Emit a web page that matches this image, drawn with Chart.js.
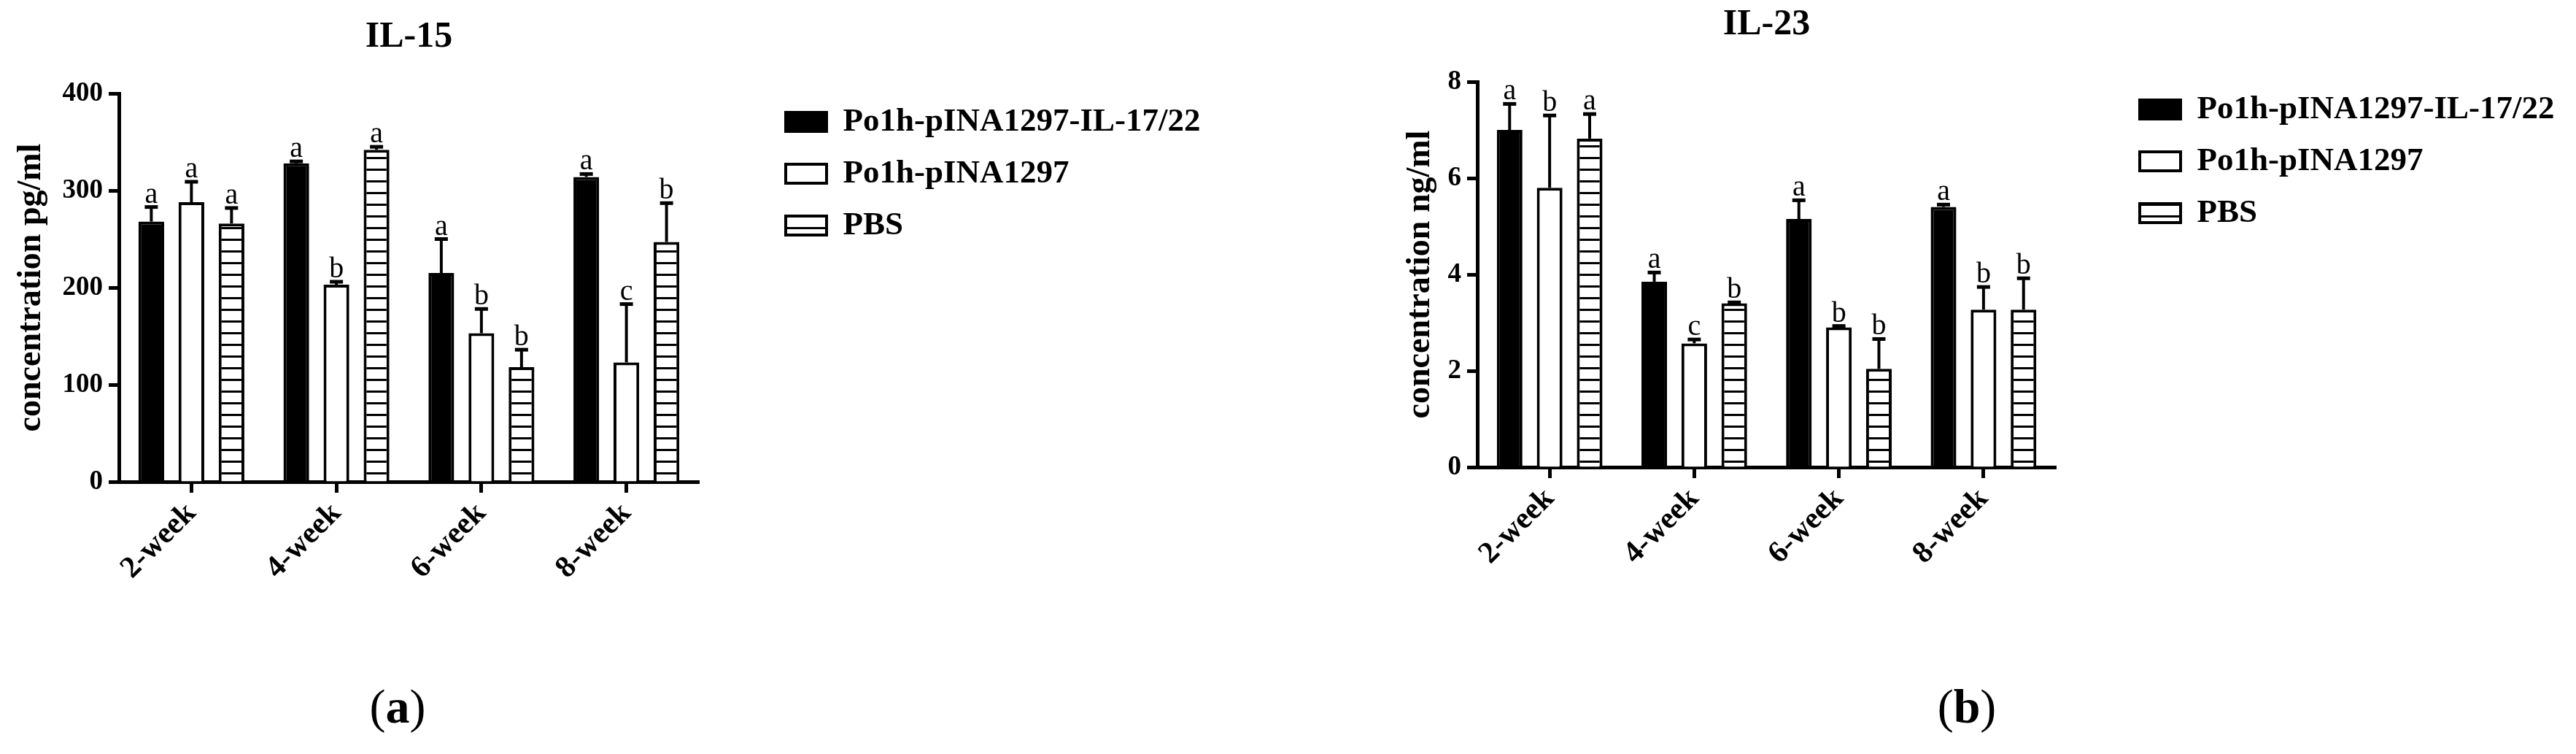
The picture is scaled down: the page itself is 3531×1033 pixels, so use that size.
<!DOCTYPE html>
<html>
<head>
<meta charset="utf-8">
<script src="https://cdn.jsdelivr.net/npm/chart.js@4.4.1/dist/chart.umd.min.js"></script>
<style>
  body { margin: 0; background: #fff; }
  canvas { position: absolute; top: 0; }
</style>
</head>
<body>
<canvas id="il15" width="1766" height="1033" style="left:0"></canvas>
<canvas id="il23" width="1765" height="1033" style="left:1766px"></canvas>
<script>
const weeks = ['2-week', '4-week', '6-week', '8-week'];
const groups = ['Po1h-pINA1297-IL-17/22', 'Po1h-pINA1297', 'PBS'];

// IL-15 (pg/ml)
const il15Vaccine = [268, 328, 215, 314];
const il15Vector = [288, 203, 153, 123];
const il15Pbs = [266, 342, 118, 247];
const il15VaccineSd = [15, 2, 35, 3];
const il15VectorSd = [21, 3, 25, 60];
const il15PbsSd = [16, 3, 18, 40];
const il15VaccineSig = ['a', 'a', 'a', 'a'];
const il15VectorSig = ['a', 'b', 'b', 'c'];
const il15PbsSig = ['a', 'a', 'b', 'b'];
const il15Ticks = [0, 100, 200, 300, 400];

// IL-23 (ng/ml)
const il23Vaccine = [7.0, 3.85, 5.15, 5.4];
const il23Vector = [5.8, 2.57, 2.9, 3.27];
const il23Pbs = [6.82, 3.4, 2.04, 3.27];
const il23VaccineSd = [0.54, 0.19, 0.39, 0.05];
const il23VectorSd = [1.5, 0.08, 0.03, 0.47];
const il23PbsSd = [0.51, 0.02, 0.62, 0.65];
const il23VaccineSig = ['a', 'a', 'a', 'a'];
const il23VectorSig = ['b', 'c', 'b', 'b'];
const il23PbsSig = ['a', 'b', 'b', 'b'];
const il23Ticks = [0, 2, 4, 6, 8];

const SERIF = '"Liberation Serif", "Times New Roman", serif';
Chart.defaults.color = '#000';
Chart.defaults.font.family = SERIF;

function stripes(ctx) {
  const c = document.createElement('canvas');
  c.width = 16; c.height = 16;
  const g = c.getContext('2d');
  g.fillStyle = '#fff'; g.fillRect(0, 0, 16, 16);
  g.fillStyle = '#000'; g.fillRect(0, 7, 16, 3);
  return ctx.createPattern(c, 'repeat');
}

// error bars (upward only) + significance letters
function errorBars(sds, sigs) {
  return {
    id: 'errorBars',
    afterDatasetsDraw(chart) {
      const ctx = chart.ctx, y = chart.scales.y;
      ctx.save();
      ctx.strokeStyle = '#000';
      ctx.fillStyle = '#000';
      ctx.font = 'normal 40px ' + SERIF;
      ctx.textAlign = 'center';
      ctx.textBaseline = 'alphabetic';
      chart.data.datasets.forEach((ds, i) => {
        chart.getDatasetMeta(i).data.forEach((bar, j) => {
          const top = y.getPixelForValue(ds.data[j] + sds[i][j]);
          ctx.lineWidth = 4;
          ctx.beginPath(); ctx.moveTo(bar.x, bar.y); ctx.lineTo(bar.x, top); ctx.stroke();
          ctx.lineWidth = 5;
          ctx.beginPath(); ctx.moveTo(bar.x - 9, top); ctx.lineTo(bar.x + 9, top); ctx.stroke();
          ctx.fillText(sigs[i][j], bar.x, top - 6);
        });
      });
      ctx.restore();
    }
  };
}

// put the legend where the figure has it (it takes no room in the layout)
function legendAt(left, top) {
  return {
    id: 'legendAt',
    afterLayout(chart) {
      const lg = chart.legend;
      lg.left = left; lg.right = left + 700;
      lg.top = top; lg.bottom = top + 400;
    }
  };
}

// "(a)" / "(b)" under each panel
function panelLabel(letter, cx, cy) {
  return {
    id: 'panelLabel',
    afterDraw(chart) {
      const ctx = chart.ctx;
      const reg = 'normal 66px ' + SERIF, bold = 'bold 66px ' + SERIF;
      ctx.save();
      ctx.fillStyle = '#000';
      ctx.textBaseline = 'middle';
      ctx.textAlign = 'left';
      ctx.font = reg; const wp = ctx.measureText('(').width, wq = ctx.measureText(')').width;
      ctx.font = bold; const wl = ctx.measureText(letter).width;
      let x = cx - (wp + wl + wq) / 2;
      ctx.font = reg; ctx.fillText('(', x, cy); x += wp;
      ctx.font = bold; ctx.fillText(letter, x, cy); x += wl;
      ctx.font = reg; ctx.fillText(')', x, cy);
      ctx.restore();
    }
  };
}

function makeChart(id, p) {
  const canvas = document.getElementById(id);
  const ctx = canvas.getContext('2d');
  const fills = ['#000', '#fff', stripes(ctx)];
  return new Chart(ctx, {
    type: 'bar',
    data: {
      labels: weeks,
      datasets: p.series.map((d, i) => ({
        label: groups[i],
        data: d,
        backgroundColor: fills[i],
        borderColor: '#000',
        borderWidth: 4,
        categoryPercentage: 0.83,
        barPercentage: 0.64
      }))
    },
    options: {
      responsive: false,
      animation: false,
      events: [],
      layout: { padding: p.padding },
      plugins: {
        title: {
          display: true,
          text: p.title,
          fullSize: false,
          color: '#000',
          font: { family: SERIF, size: 50, weight: 'bold' },
          padding: p.titlePad
        },
        legend: {
          position: 'right',
          align: 'start',
          maxWidth: 1,
          labels: {
            color: '#000',
            boxWidth: 56,
            boxHeight: 26,
            padding: 26,
            font: { family: SERIF, size: 45, weight: 'bold' }
          }
        },
        tooltip: { enabled: false }
      },
      scales: {
        x: {
          offset: true,
          grid: { offset: false, drawOnChartArea: false, tickLength: 15, tickWidth: 5, tickColor: '#000' },
          border: { display: true, width: 5, color: '#000' },
          ticks: {
            maxRotation: 45, minRotation: 45, autoSkip: false, padding: 4,
            color: '#000',
            font: { family: SERIF, size: 42, weight: 'bold' }
          },
          afterFit: s => { s.height = p.xHeight; }
        },
        y: {
          min: 0,
          max: p.ticks[p.ticks.length - 1],
          afterBuildTicks: s => { s.ticks = p.ticks.map(v => ({ value: v })); },
          grid: { drawOnChartArea: false, tickLength: 14, tickWidth: 5, tickColor: '#000' },
          border: { display: true, width: 5, color: '#000' },
          ticks: {
            padding: 8,
            color: '#000',
            font: { family: SERIF, size: 37, weight: 'bold' }
          },
          title: {
            display: true,
            text: p.yTitle,
            color: '#000',
            font: { family: SERIF, size: 46, weight: 'bold' },
            padding: { top: 16, bottom: 0 }
          },
          afterFit: s => { s.width = p.yWidth; }
        }
      }
    },
    plugins: [errorBars(p.sds, p.sigs), legendAt(p.legendX, p.legendY), panelLabel(p.panel, p.panelX, 973)]
  });
}

makeChart('il15', {
  title: 'IL-15',
  yTitle: 'concentration pg/ml',
  series: [il15Vaccine, il15Vector, il15Pbs],
  sds: [il15VaccineSd, il15VectorSd, il15PbsSd],
  sigs: [il15VaccineSig, il15VectorSig, il15PbsSig],
  ticks: il15Ticks,
  padding: { left: 0, right: 807, top: 0, bottom: 0 },
  titlePad: { top: 21, bottom: 47 },
  yWidth: 163,
  xHeight: 373,
  legendX: 1051,
  legendY: 118.5,
  panel: 'a',
  panelX: 545
});

makeChart('il23', {
  title: 'IL-23',
  yTitle: 'concentration ng/ml',
  series: [il23Vaccine, il23Vector, il23Pbs],
  sds: [il23VaccineSd, il23VectorSd, il23PbsSd],
  sigs: [il23VaccineSig, il23VectorSig, il23PbsSig],
  ticks: il23Ticks,
  padding: { left: 138, right: 712, top: 0, bottom: 0 },
  titlePad: { top: 4, bottom: 48 },
  yWidth: 121,
  xHeight: 393,
  legendX: 1141,
  legendY: 101.5,
  panel: 'b',
  panelX: 930
});
</script>
</body>
</html>
